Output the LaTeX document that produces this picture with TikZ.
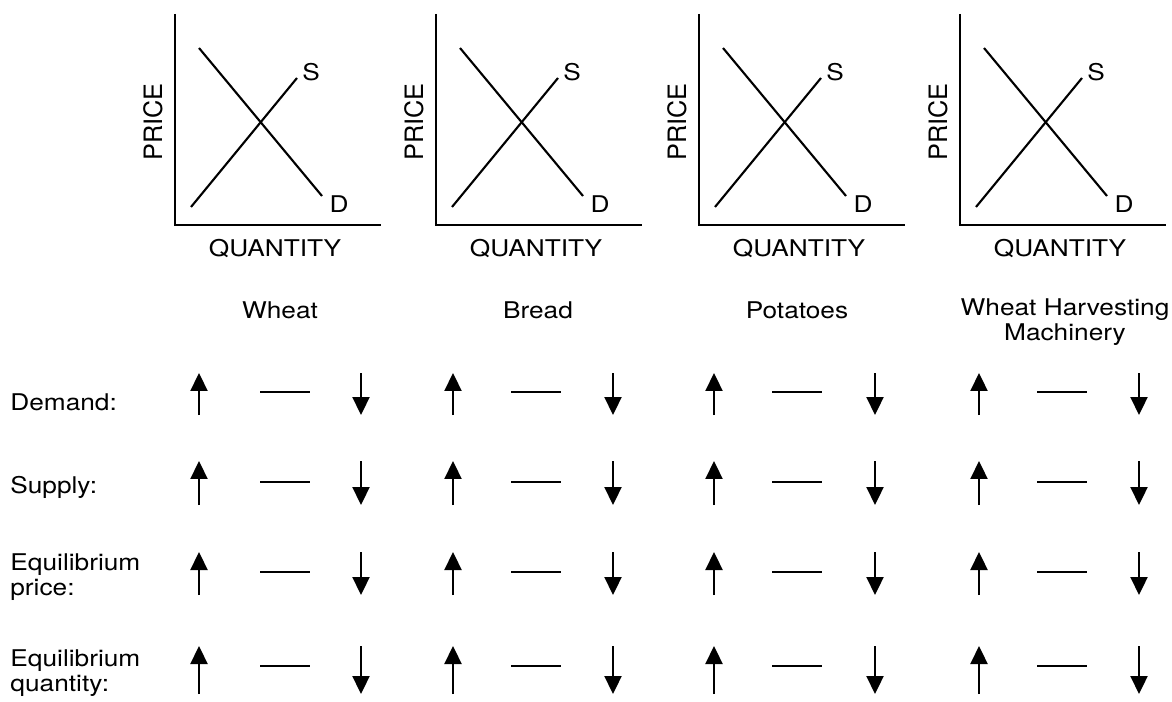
\documentclass[tikz,border=0pt]{standalone}
\usepackage{fontspec}
\setmainfont{TeX Gyre Heros}
\usetikzlibrary{arrows.meta}

\begin{document}
\begin{tikzpicture}[x=0.02cm,y=-0.02cm,
  txt/.style={font=\fontsize{13.1}{14.4}\selectfont,inner sep=0pt,xscale=1.14},
  pricelbl/.style={font=\fontsize{13.1}{14.4}\selectfont,inner sep=0pt,rotate=90,scale=1.1},
  axis/.style={line width=1.3pt},
  curve/.style={line width=1.2pt},
  vecarr/.style={line width=1.3pt,-{Triangle[length=0.36cm,width=0.34cm]}},
  flat/.style={line width=1.4pt}]
  \useasboundingbox (0,0) rectangle (1172,702);
  % the four supply and demand graphs
  \foreach \x [count=\i] in {175,436,699,960} {
    \draw[axis] (\x,14) -- (\x,225) -- (\x+206,225);
    \draw[curve] (\x+24,48) -- (\x+147,196);
    \draw[curve] (\x+16,207) -- (\x+122,78);
    \node[txt] (s\i) at (\x+136,72) {S};
    \node[txt] (d\i) at (\x+164,204) {D};
    \node[txt,anchor=base] (qty\i) at (\x+100,257) {QUANTITY};
    \node[pricelbl,anchor=base] (price\i) at (\x-13,122) {PRICE};
  }
  % goods
  \node[txt,anchor=base] (wheat) at (280,318) {Wheat};
  \node[txt,anchor=base] (bread) at (538,318) {Bread};
  \node[txt,anchor=base] (potatoes) at (797,318) {Potatoes};
  \node[txt,anchor=north,align=center] (machinery) at (1065,298) {Wheat Harvesting\\Machinery};
  % row labels
  \node[txt,anchor=north west] (demand) at (10,393) {Demand:};
  \node[txt,anchor=north west] (supply) at (10,476) {Supply:};
  \node[txt,anchor=north west,align=left] (eqprice) at (10,553) {Equilibrium\\price:};
  \node[txt,anchor=north west,align=left] (eqqty) at (10,649) {Equilibrium\\quantity:};
  % up, no change, down
  \foreach \xu/\xm/\xd in {199/260/361,453/511/613,714/772/875,979/1037/1139}
    \foreach \ya/\yb/\ym in {373/415/392,461/505/482,552/595/572,646/694/666} {
      \draw[vecarr] (\xu,\yb) -- (\xu,\ya);
      \draw[flat] (\xm,\ym) -- (\xm+50,\ym);
      \draw[vecarr] (\xd,\ya) -- (\xd,\yb);
    }
\end{tikzpicture}
\end{document}
